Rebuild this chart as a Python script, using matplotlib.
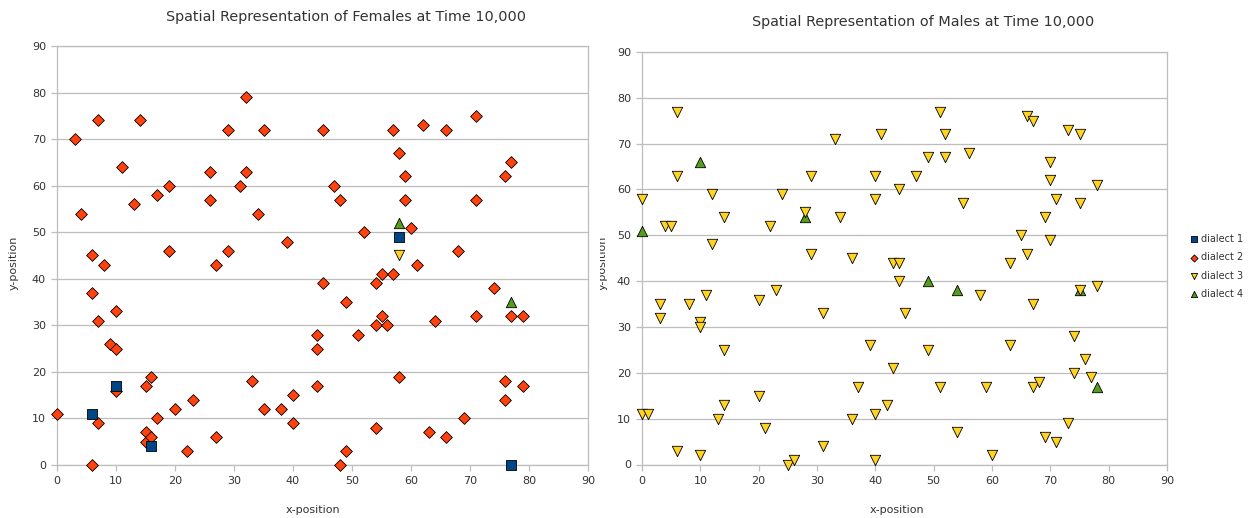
import matplotlib
matplotlib.use("Agg")
import matplotlib.pyplot as plt
from matplotlib.transforms import Bbox, TransformedBbox

# ---------------- data ----------------
fem_d1_x = [6, 10, 16, 58, 77]
fem_d1_y = [11, 17, 4, 49, 0]

fem_d2_x = [0, 3, 4, 6, 6, 6, 7, 7, 7, 8, 9, 10, 10, 10, 11, 13, 14, 15, 15, 15,
            16, 16, 17, 17, 19, 19, 20, 22, 23, 26, 26, 27, 27, 29, 29, 31, 32, 32,
            33, 34, 35, 35, 38, 39, 40, 40, 44, 44, 44, 45, 45, 47, 48, 48, 49, 49,
            51, 52, 54, 54, 54, 55, 55, 56, 57, 57, 58, 58, 59, 59, 60, 61, 62, 63,
            64, 66, 66, 68, 69, 71, 71, 71, 74, 76, 76, 76, 77, 77, 79, 79]
fem_d2_y = [11, 70, 54, 45, 37, 0, 74, 31, 9, 43, 26, 33, 25, 16, 64, 56, 74, 17, 7, 5,
            19, 6, 58, 10, 60, 46, 12, 3, 14, 63, 57, 43, 6, 72, 46, 60, 79, 63,
            18, 54, 72, 12, 12, 48, 15, 9, 28, 25, 17, 72, 39, 60, 57, 0, 35, 3,
            28, 50, 39, 30, 8, 41, 32, 30, 72, 41, 67, 19, 62, 57, 51, 43, 73, 7,
            31, 72, 6, 46, 10, 75, 57, 32, 38, 62, 18, 14, 65, 32, 32, 17]

fem_d3_x = [58]
fem_d3_y = [45]

fem_d4_x = [58, 77]
fem_d4_y = [52, 35]

male_d3_x = [0, 0, 1, 3, 3, 4, 5, 6, 6, 6, 8, 10, 10, 10, 11, 12, 12, 13, 14, 14,
             14, 20, 20, 21, 22, 23, 24, 25, 26, 28, 29, 29, 31, 31, 33, 34, 36, 36,
             37, 39, 40, 40, 40, 40, 41, 42, 43, 43, 44, 44, 44, 45, 47, 49, 49, 51,
             51, 52, 52, 54, 55, 56, 58, 59, 60, 63, 63, 65, 66, 66, 67, 67, 67, 68,
             69, 69, 70, 70, 70, 71, 71, 73, 73, 74, 74, 75, 75, 75, 76, 77, 78, 78]
male_d3_y = [58, 11, 11, 35, 32, 52, 52, 77, 63, 3, 35, 31, 30, 2, 37, 59, 48, 10, 54, 25,
             13, 36, 15, 8, 52, 38, 59, 0, 1, 55, 63, 46, 33, 4, 71, 54, 45, 10,
             17, 26, 63, 58, 11, 1, 72, 13, 44, 21, 60, 44, 40, 33, 63, 67, 25, 77,
             17, 72, 67, 7, 57, 68, 37, 17, 2, 44, 26, 50, 76, 46, 75, 35, 17, 18,
             54, 6, 66, 62, 49, 58, 5, 73, 9, 28, 20, 72, 57, 38, 23, 19, 61, 39]

male_d4_x = [0, 10, 28, 49, 54, 75, 78]
male_d4_y = [51, 66, 54, 40, 38, 38, 17]

labels = ["dialect 1", "dialect 2", "dialect 3", "dialect 4"]
ticks = [0, 10, 20, 30, 40, 50, 60, 70, 80, 90]

# ---------------- style ----------------
C1, C2, C3, C4 = "#004586", "#ff420e", "#ffd320", "#579d1c"
GRID = "#bdbdbd"
TXT = "#333333"
W, H = 1256, 518

plt.rcParams["font.family"] = ["DejaVu Sans"]

fig = plt.figure(figsize=(W / 100, H / 100), dpi=100)


def px_axes(x0, x1, ytop, ybot):
    return fig.add_axes([x0 / W, (H - ybot) / H, (x1 - x0) / W, (ybot - ytop) / H])


def style(ax):
    ax.set_xlim(0, 90)
    ax.set_ylim(0, 90)
    ax.set_xticks(ticks)
    ax.set_yticks(ticks)
    ax.yaxis.grid(True, color=GRID, lw=0.9)
    ax.set_axisbelow(True)
    for s in ax.spines.values():
        s.set_color(GRID)
        s.set_linewidth(0.9)
    ax.tick_params(axis="both", direction="out", length=4, width=0.9, color=GRID,
                   labelsize=8, labelcolor=TXT, pad=4)


mk = dict(edgecolors="black", linewidths=0.6, clip_on=False)
S_SQ, S_DI, S_TR = 62, 36, 56

# Left: females
ax1 = px_axes(57, 588, 46, 465)
style(ax1)
ax1.scatter(fem_d4_x, fem_d4_y, marker="^", s=S_TR, color=C4, zorder=3, **mk)
ax1.scatter(fem_d3_x, fem_d3_y, marker="v", s=S_TR, color=C3, zorder=4, **mk)
ax1.scatter(fem_d2_x, fem_d2_y, marker="D", s=S_DI, color=C2, zorder=5, **mk)
ax1.scatter(fem_d1_x, fem_d1_y, marker="s", s=S_SQ, color=C1, zorder=6, **mk)

# Right: males
ax2 = px_axes(642, 1167, 52, 464.5)
style(ax2)
h4 = ax2.scatter(male_d4_x, male_d4_y, marker="^", s=S_TR, color=C4, zorder=3, **mk)
h3 = ax2.scatter(male_d3_x, male_d3_y, marker="v", s=S_TR, color=C3, zorder=4, **mk)
h2 = ax2.scatter([], [], marker="D", s=S_DI, color=C2, **mk)
h1 = ax2.scatter([], [], marker="s", s=S_SQ, color=C1, **mk)

# Titles and axis labels
fig.text(346 / W, 1 - 17 / H, "Spatial Representation of Females at Time 10,000",
         ha="center", va="center", fontsize=10.4, color=TXT)
fig.text(923 / W, 1 - 22 / H, "Spatial Representation of Males at Time 10,000",
         ha="center", va="center", fontsize=10.4, color=TXT)
fig.text(313 / W, 1 - 510 / H, "x-position", ha="center", va="center",
         fontsize=8, color=TXT)
fig.text(897 / W, 1 - 510 / H, "x-position", ha="center", va="center",
         fontsize=8, color=TXT)
fig.text(14 / W, 1 - 263 / H, "y-position", ha="center", va="center",
         rotation=90, fontsize=8, color=TXT)
t = fig.text(603 / W, 1 - 263 / H, "y-position", ha="center", va="center",
             rotation=90, fontsize=8, color=TXT)
t.set_clip_box(TransformedBbox(Bbox.from_extents(600 / W, 0, 1, 1), fig.transFigure))
t.set_clip_on(True)

# Legend
fig.legend([h1, h2, h3, h4], labels, loc="upper left",
           bbox_to_anchor=(1190 / W, 1 - 234 / H), frameon=False,
           fontsize=7, labelcolor=TXT, handlelength=0.8, handletextpad=0.3,
           labelspacing=0.85, markerscale=0.6, borderpad=0, borderaxespad=0)

fig.savefig("out.png", dpi=100, facecolor="white")
